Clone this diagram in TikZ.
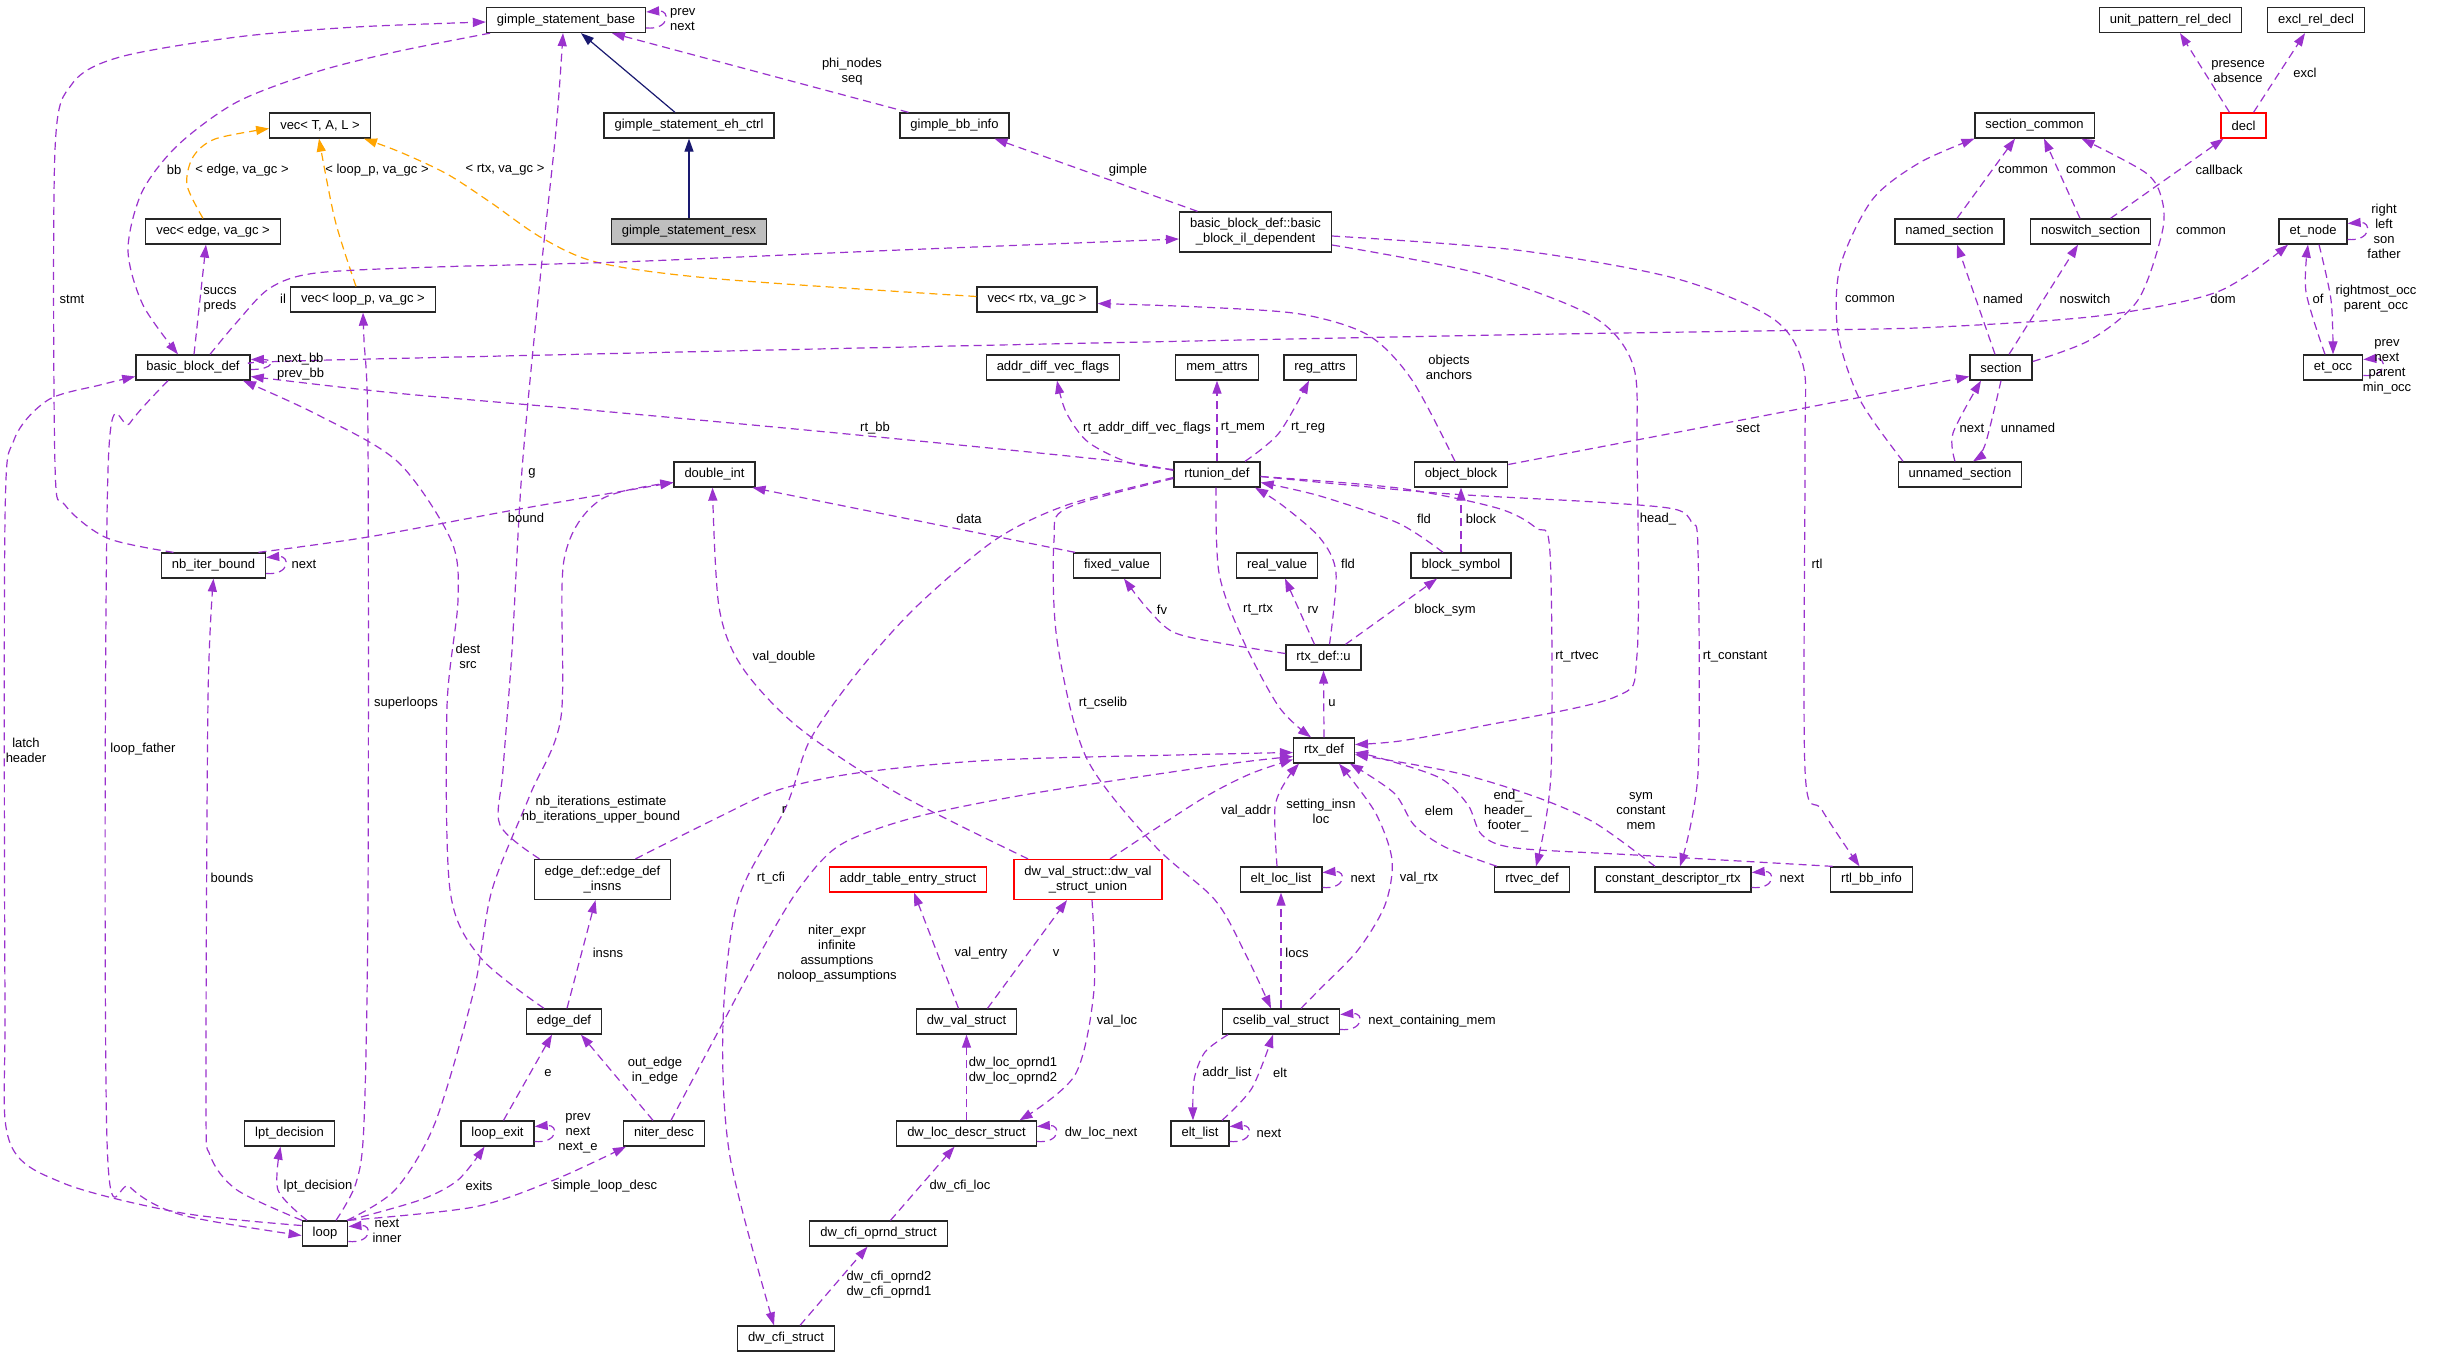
\documentclass[tikz,border=0pt]{standalone}
\usepackage{fontspec}
\setmainfont{Liberation Sans}
\usetikzlibrary{arrows.meta}
\definecolor{collab}{HTML}{9A32CD}
\definecolor{tmplc}{HTML}{FFA500}
\definecolor{inhc}{HTML}{191970}
\tikzset{
  cls/.style={draw=black!85, line width=1.3pt, fill=white, inner xsep=10.5pt, inner ysep=2pt, minimum height=25pt, align=center},
  cls2/.style={cls, minimum height=40pt},
  rootcls/.style={cls, fill=black!25},
  undoc/.style={cls, draw=red},
  lbl/.style={inner sep=0pt, align=center},
  member/.style={draw=collab, line width=1.2pt, dash pattern=on 8pt off 5pt, -{Triangle[length=13pt,width=9pt]}},
  tmpl/.style={member, draw=tmplc},
  inherit/.style={draw=inhc, line width=1.2pt, -{Triangle[length=13pt,width=9pt]}},
}
\begin{document}
\begin{tikzpicture}[x=1pt, y=-1pt, font=\fontsize{13}{15}\selectfont]
			%%%%% START %%%%%
			\fill[white] (0,0) rectangle (2443,1357);
			\useasboundingbox (0,0) rectangle (2443,1357);

			% classes
			\node[cls] (gsb) at (566,20) {gimple\_statement\_base};
			\node[cls] (gsec) at (689,125.5) {gimple\_statement\_eh\_ctrl};
			\node[rootcls] (gsr) at (689,231.5) {gimple\_statement\_resx};
			\node[cls] (gbi) at (954.5,125.5) {gimple\_bb\_info};
			\node[cls2] (bbil) at (1255.5,232) {basic\_block\_def::basic\\\_block\_il\_dependent};
			\node[cls] (vecT) at (320,125.5) {vec< T, A, L >};
			\node[cls] (vecE) at (213,231.5) {vec< edge, va\_gc >};
			\node[cls] (vecL) at (363,299.5) {vec< loop\_p, va\_gc >};
			\node[cls] (vecR) at (1037,299.5) {vec< rtx, va\_gc >};
			\node[cls] (bbd) at (193,367.5) {basic\_block\_def};
			\node[cls] (adv) at (1053,367.5) {addr\_diff\_vec\_flags};
			\node[cls] (mema) at (1217,367.5) {mem\_attrs};
			\node[cls] (rega) at (1320,367.5) {reg\_attrs};
			\node[cls] (upr) at (2170.5,20) {unit\_pattern\_rel\_decl};
			\node[cls] (erd) at (2316,20) {excl\_rel\_decl};
			\node[cls] (scom) at (2034.5,125.5) {section\_common};
			\node[undoc] (decl) at (2243.5,125.5) {decl};
			\node[cls] (nsec) at (1949.5,231.5) {named\_section};
			\node[cls] (nssec) at (2090.5,231.5) {noswitch\_section};
			\node[cls] (etn) at (2313,231.5) {et\_node};
			\node[cls] (sec) at (2001,367.5) {section};
			\node[cls] (eto) at (2333,367.5) {et\_occ};
			\node[cls] (nib) at (213.5,565.5) {nb\_iter\_bound};
			\node[cls2] (edi) at (602.5,879.5) {edge\_def::edge\_def\\\_insns};
			\node[cls] (dint) at (714.5,474.5) {double\_int};
			\node[cls] (rtu) at (1217,474.5) {rtunion\_def};
			\node[cls] (fxv) at (1117,565.5) {fixed\_value};
			\node[undoc] (ates) at (908,879.5) {addr\_table\_entry\_struct};
			\node[undoc, minimum height=40pt] (dvu) at (1088,879.5) {dw\_val\_struct::dw\_val\\\_struct\_union};
			\node[cls] (objb) at (1461,474.5) {object\_block};
			\node[cls] (realv) at (1277,565.5) {real\_value};
			\node[cls] (blks) at (1461,565.5) {block\_symbol};
			\node[cls] (rtxu) at (1323.5,657.5) {rtx\_def::u};
			\node[cls] (rtx) at (1324,750.5) {rtx\_def};
			\node[cls] (ell) at (1281,879.5) {elt\_loc\_list};
			\node[cls] (rtv) at (1532,879.5) {rtvec\_def};
			\node[cls] (cdr) at (1673,879.5) {constant\_descriptor\_rtx};
			\node[cls] (usec) at (1960,474.5) {unnamed\_section};
			\node[cls] (rbi) at (1871.5,879.5) {rtl\_bb\_info};
			\node[cls] (edef) at (564,1021.5) {edge\_def};
			\node[cls] (lptd) at (289.5,1133.5) {lpt\_decision};
			\node[cls] (lexit) at (497.5,1133.5) {loop\_exit};
			\node[cls] (loop) at (325,1233.5) {loop};
			\node[cls] (nid) at (664,1133.5) {niter\_desc};
			\node[cls] (dvs) at (966.5,1021.5) {dw\_val\_struct};
			\node[cls] (dld) at (966.5,1133.5) {dw\_loc\_descr\_struct};
			\node[cls] (dcos) at (878.5,1233.5) {dw\_cfi\_oprnd\_struct};
			\node[cls] (dcs) at (786,1338.5) {dw\_cfi\_struct};
			\node[cls] (elst) at (1200,1133.5) {elt\_list};
			\node[cls] (csv) at (1281,1021.5) {cselib\_val\_struct};

			% inheritance
			\draw[inherit] ([xshift=-14pt]gsec.north) -- ([xshift=15pt]gsb.south);
			\draw[inherit] (gsr.north) -- (gsec.south);

			% template instances
			\draw[tmpl] plot[smooth] coordinates {([xshift=-10pt]vecE.north) (187,185) (193,157) (215,139) ([yshift=-3pt]vecT.west)};
			\draw[tmpl] plot[smooth] coordinates {([xshift=-7pt]vecL.north) (335,220) ([xshift=-1pt]vecT.south)};
			\draw[tmpl] plot[smooth] coordinates {([yshift=3pt]vecR.west) (719,279) (600,263) (542,238) (490,202) (447,174) (400,152) ([xshift=44pt]vecT.south)};

			% gimple side
			\draw[member] plot[smooth] coordinates {([xshift=-40pt]nib.north) (107,538) (65,505) (55,465) (55,150) (72,84) (120,57) (237,37) (356,27) ([yshift=-2pt]gsb.west)};
			\draw[member] plot[smooth] coordinates {([xshift=-76pt]gsb.south) (395,52) (316,72) (237,102) (178,145) (142,192) (128,250) (143,305) ([xshift=-15pt]bbd.north)};
			\draw[member] plot[smooth] coordinates {([xshift=-63pt]edi.north) (500,825) (503,770) (512,650) (522,470) (540,280) (556,130) ([xshift=-3pt]gsb.south)};
			\draw[member] ([yshift=-8pt]gsb.east) .. controls +(24,2) and +(24,-2) .. ([yshift=8pt]gsb.east);
			\draw[member] ([xshift=-46pt]gbi.north) -- ([xshift=46pt]gsb.south);
			\draw[member] ([xshift=-58pt]bbil.north) -- ([xshift=40pt]gbi.south);
			\draw[member] plot[smooth] coordinates {([xshift=17pt]bbd.north) (237,322) (270,288) (316,273) (435,267) (620,262) (900,250) ([yshift=-7pt]bbil.west)};
			\draw[member] ([xshift=1pt]bbd.north) -- ([xshift=-7pt]vecE.south);
			\draw[member] plot[smooth] coordinates {([xshift=11pt]loop.north) (356,1183) (364,1123) (368,900) (368,440) (364,340) (vecL.south)};
			\draw[member] ([yshift=-2pt]bbd.east) .. controls +(24,0) and +(24,0) .. ([yshift=8pt]bbd.east);
			\draw[member] plot[smooth] coordinates {([yshift=4pt]rtu.west) (1106,460) (837,433) (600,411) (395,393) ([yshift=-9pt]bbd.east)};
			\draw[member] plot[smooth] coordinates {([xshift=-20pt]edef.north) (480,957) (450,890) (447,707) (458,600) (451,540) (398,462) (318,415) ([xshift=50pt]bbd.south)};
			\draw[member] plot[smooth] coordinates {([yshift=8pt]loop.west) (182,1213) (63,1183) (9,1140) (5,1000) (5,520) (14,440) (48,400) (100,385) ([yshift=-9pt]bbd.west)};
			\draw[member] plot[smooth] coordinates {([xshift=-25pt]bbd.south) (130,423) (108,470) (107,1140) (130,1187) (182,1215) ([yshift=-2pt]loop.west)};
			\draw[member] plot[smooth] coordinates {([xshift=-23pt]loop.north) (237,1190) (210,1155) (206,1100) (208,700) (nib.south)};
			\draw[member] ([yshift=-8pt]nib.east) .. controls +(24,2) and +(24,-2) .. ([yshift=8pt]nib.east);
			\draw[member] plot[smooth] coordinates {([xshift=45pt]nib.north) (368,537) (514,510) ([yshift=-8pt]dint.west)};
			\draw[member] plot[smooth] coordinates {([xshift=22pt]loop.north) (395,1190) (435,1123) (474,990) (492,890) (530,795) (561,717) (564,560) (600,500) ([yshift=-8pt]dint.west)};
			\draw[member] plot[smooth] coordinates {([xshift=-60pt]dvu.north) (897,793) (798,727) (742,667) (719,607) ([xshift=-2pt]dint.south)};
			\draw[member] ([xshift=-42pt]fxv.north) -- ([xshift=38pt]dint.south);

			% rtl side
			\draw[member] plot[smooth] coordinates {([yshift=5pt]rtu.west) (1130,463) (1088,442) (1066,412) ([xshift=4pt]adv.south)};
			\draw[member] (rtu.north) -- (mema.south);
			\draw[member] plot[smooth] coordinates {([xshift=28pt]rtu.north) (1279,433) ([xshift=-11pt]rega.south)};
			\draw[member] plot[smooth] coordinates {([xshift=-6pt]objb.north) (1412,380) (1368,335) (1300,314) (1200,307) ([yshift=-4pt]vecR.east)};
			\draw[member] ([yshift=10pt]objb.east) -- ([yshift=-9pt]sec.west);
			\draw[member] plot[smooth] coordinates {([yshift=-13pt]bbil.east) (1477,273) (1592,316) (1633,365) (1637,450) (1637,655) (1615,697) (1477,727) (1400,741) ([yshift=6pt]rtx.east)};
			\draw[member] plot[smooth] coordinates {([yshift=-4pt]bbil.east) (1516,250) (1674,278) (1772,318) (1803,365) (1805,450) (1805,770) (1822,810) ([xshift=-12pt]rbi.north)};
			\draw[member] plot[smooth] coordinates {([xshift=-39pt]rbi.north) (1635,855) (1516,848) (1482,835) (1468,805) (1440,778) (1380,758) ([yshift=-2pt]rtx.east)};
			\draw[member] plot[smooth] coordinates {([xshift=-18pt]cdr.north) (1595,823) (1536,797) (1457,773) ([yshift=-4pt]rtx.east)};
			\draw[member] plot[smooth] coordinates {([xshift=-35pt]rtv.north) (1445,847) (1414,825) (1394,793) ([xshift=26pt]rtx.south)};
			\draw[member] plot[smooth] coordinates {([yshift=-2pt]rtu.east) (1398,488) (1497,508) (1536,528) (1550,553) (1551,773) ([xshift=4pt]rtv.north)};
			\draw[member] plot[smooth] coordinates {([yshift=-2pt]rtu.east) (1437,493) (1595,502) (1674,509) (1692,523) (1698,550) (1698,773) ([xshift=7pt]cdr.north)};
			\draw[member] ([yshift=-8pt]cdr.east) .. controls +(24,2) and +(24,-2) .. ([yshift=7pt]cdr.east);
			\draw[member] plot[smooth] coordinates {([xshift=-1pt]rtu.south) (1219,573) (1243,640) (1279,707) ([xshift=-13pt]rtx.north)};
			\draw[member] plot[smooth] coordinates {([xshift=6pt]rtxu.north) (1336,573) (1320,538) (1282,505) ([xshift=38pt]rtu.south)};
			\draw[member] plot[smooth] coordinates {([xshift=-18pt]blks.north) (1398,523) (1320,496) ([yshift=-8pt]rtu.east)};
			\draw[member] (blks.north) -- (objb.south);
			\draw[member] ([xshift=22pt]rtxu.north) -- ([xshift=-24pt]blks.south);
			\draw[member] ([xshift=-9pt]rtxu.north) -- ([xshift=8pt]realv.south);
			\draw[member] plot[smooth] coordinates {([yshift=4pt]rtxu.west) (1220,643) (1173,632) (1146,607) ([xshift=7pt]fxv.south)};
			\draw[member] (rtx.north) -- (rtxu.south);
			\draw[member] plot[smooth] coordinates {([yshift=-4pt]rtu.west) (1067,508) (1054,540) (1057,640) (1086,757) (1154,845) (1215,900) (1246,955) ([xshift=-10pt]csv.north)};
			\draw[member] plot[smooth] coordinates {([yshift=-3pt]rtu.west) (1067,505) (995,540) (916,607) (857,673) (810,740) (786,807) (738,900) (723,1023) (730,1157) ([xshift=-12pt]dcs.north)};
			\draw[member] plot[smooth] coordinates {([xshift=33pt]edi.north) (719,817) (778,790) (857,773) (995,760) (1220,754) ([yshift=-2pt]rtx.west)};
			\draw[member] plot[smooth] coordinates {([xshift=7pt]nid.north) (719,1030) (758,957) (798,890) (840,845) (916,817) (1035,793) (1220,765) ([yshift=-6pt]rtx.west)};
			\draw[member] plot[smooth] coordinates {([xshift=22pt]dvu.north) (1200,800) (1250,774) ([yshift=-9pt]rtx.west)};
			\draw[member] plot[smooth] coordinates {([xshift=-4pt]ell.north) (1275,807) (1287,779) ([xshift=-25pt]rtx.south)};
			\draw[member] ([yshift=-8pt]ell.east) .. controls +(24,2) and +(24,-2) .. ([yshift=7pt]ell.east);
			\draw[member] plot[smooth] coordinates {([xshift=20pt]csv.north) (1319,990) (1358,950) (1385,905) (1392,860) (1375,812) ([xshift=15pt]rtx.south)};
			\draw[member] (csv.north) -- (ell.south);
			\draw[member] ([yshift=-8pt]csv.east) .. controls +(24,2) and +(24,-2) .. ([yshift=7pt]csv.east);
			\draw[member] plot[smooth] coordinates {([xshift=-53pt]csv.south) (1205,1052) (1194,1080) ([xshift=-7pt]elst.north)};
			\draw[member] plot[smooth] coordinates {([xshift=22pt]elst.north) (1252,1088) ([xshift=-8pt]csv.south)};
			\draw[member] ([yshift=-8pt]elst.east) .. controls +(24,2) and +(24,-2) .. ([yshift=7pt]elst.east);

			% dwarf side
			\draw[member] ([xshift=-8pt]dvs.north) -- ([xshift=6pt]ates.south);
			\draw[member] ([xshift=21pt]dvs.north) -- ([xshift=-21pt]dvu.south);
			\draw[member] plot[smooth] coordinates {([xshift=4pt]dvu.south) (1094,990) (1075,1075) ([xshift=53pt]dld.north)};
			\draw[member] (dld.north) -- (dvs.south);
			\draw[member] ([yshift=-8pt]dld.east) .. controls +(24,2) and +(24,-2) .. ([yshift=7pt]dld.east);
			\draw[member] ([xshift=12pt]dcos.north) -- ([xshift=-12pt]dld.south);
			\draw[member] ([xshift=14pt]dcs.north) -- ([xshift=-11pt]dcos.south);

			% loop side
			\draw[member] ([xshift=-11pt]nid.north) -- ([xshift=17pt]edef.south);
			\draw[member] ([xshift=6pt]lexit.north) -- ([xshift=-12pt]edef.south);
			\draw[member] ([yshift=-8pt]lexit.east) .. controls +(24,2) and +(24,-2) .. ([yshift=7pt]lexit.east);
			\draw[member] plot[smooth] coordinates {(loop.north east) (420,1200) (458,1180) ([xshift=-13pt]lexit.south)};
			\draw[member] plot[smooth] coordinates {(loop.north east) (474,1207) (554,1180) ([xshift=-38pt]nid.south)};
			\draw[member] plot[smooth] coordinates {([xshift=-18pt]loop.north) (278,1190) ([xshift=-9pt]lptd.south)};
			\draw[member] ([yshift=-8pt]loop.east) .. controls +(24,2) and +(24,-2) .. ([yshift=7pt]loop.east);
			\draw[member] ([xshift=3pt]edef.north) -- ([xshift=-7pt]edi.south);

			% section side
			\draw[member] ([xshift=7.5pt]nsec.north) -- ([xshift=-19.5pt]scom.south);
			\draw[member] ([xshift=-10.5pt]nssec.north) -- ([xshift=9.5pt]scom.south);
			\draw[member] plot[smooth] coordinates {([yshift=6pt]sec.east) (2090,340) (2138,300) (2162,233) (2162,200) (2146,173) ([xshift=47pt]scom.south)};
			\draw[member] plot[smooth] coordinates {([xshift=-57pt]usec.north) (1860,400) (1838,333) (1840,267) (1872,200) (1919,163) ([xshift=-60pt]scom.south)};
			\draw[member] ([xshift=-6pt]sec.north) -- ([xshift=7.5pt]nsec.south);
			\draw[member] ([xshift=8pt]sec.north) -- ([xshift=-12.5pt]nssec.south);
			\draw[member] ([xshift=20pt]nssec.north) -- ([xshift=-20pt]decl.south);
			\draw[member] plot[smooth] coordinates {(sec.south) (1985,445) ([xshift=13pt]usec.north)};
			\draw[member] plot[smooth] coordinates {([xshift=-5pt]usec.north) (1953,433) ([xshift=-20pt]sec.south)};
			\draw[member] ([xshift=-14pt]decl.north) -- ([xshift=9.5pt]upr.south);
			\draw[member] ([xshift=10pt]decl.north) -- ([xshift=-11pt]erd.south);
			\draw[member] ([yshift=-8pt]etn.east) .. controls +(24,2) and +(24,-2) .. ([yshift=8pt]etn.east);
			\draw[member] plot[smooth] coordinates {([xshift=-8pt]eto.north) (2306,292) ([xshift=-5pt]etn.south)};
			\draw[member] plot[smooth] coordinates {([xshift=6pt]etn.south) (2331,300) (eto.north)};
			\draw[member] ([yshift=-8pt]eto.east) .. controls +(24,2) and +(24,-2) .. ([yshift=8pt]eto.east);
			\draw[member] plot[smooth] coordinates {([yshift=4pt]bbd.east) (330,360) (1000,345) (1500,335) (1820,330) (1939,327) (2098,316) (2217,292) ([xshift=-25pt]etn.south)};

			% edge labels
			\node[lbl] (t_tpl1) at (242,170) {< edge, va\_gc >};
			\node[lbl] (t_tpl2) at (377,170) {< loop\_p, va\_gc >};
			\node[lbl] (t_tpl3) at (505,170) {< rtx, va\_gc >};
			\node[lbl] (t_bb) at (174,170) {bb};
			\node[lbl] (t_stmt) at (72,299) {stmt};
			\node[lbl] (t_g) at (532,473) {g};
			\node[lbl, anchor=west, align=left] (t_gsbself) at (670,20) {prev\\next};
			\node[lbl] (t_phi) at (852,72) {phi\_nodes\\seq};
			\node[lbl] (t_gimple) at (1128,170) {gimple};
			\node[lbl] (t_il) at (283,299) {il};
			\node[lbl] (t_succs) at (220,300) {succs\\preds};
			\node[lbl] (t_superloops) at (406,703) {superloops};
			\node[lbl, anchor=west, align=left] (t_nextbb) at (277,367) {next\_bb\\prev\_bb};
			\node[lbl] (t_rtbb) at (875,428) {rt\_bb};
			\node[lbl] (t_destsrc) at (468,656) {dest\\src};
			\node[lbl] (t_latch) at (26,750) {latch\\header};
			\node[lbl] (t_loopfather) at (143,749) {loop\_father};
			\node[lbl] (t_bounds) at (232,878) {bounds};
			\node[lbl] (t_nibnext) at (304,564) {next};
			\node[lbl] (t_bound) at (526,518) {bound};
			\node[lbl] (t_nbiter) at (601,810) {nb\_iterations\_estimate\\nb\_iterations\_upper\_bound};
			\node[lbl] (t_valdouble) at (784,657) {val\_double};
			\node[lbl] (t_data) at (969,519) {data};
			\node[lbl] (t_rtaddr) at (1147,428) {rt\_addr\_diff\_vec\_flags};
			\node[lbl] (t_rtmem) at (1243,428) {rt\_mem};
			\node[lbl] (t_rtreg) at (1308,428) {rt\_reg};
			\node[lbl] (t_objects) at (1449,367) {objects\\anchors};
			\node[lbl] (t_sect) at (1748,428) {sect};
			\node[lbl] (t_head) at (1658,519) {head\_};
			\node[lbl] (t_rtl) at (1817,564) {rtl};
			\node[lbl] (t_endhf) at (1508,811) {end\_\\header\_\\footer\_};
			\node[lbl] (t_sym) at (1641,811) {sym\\constant\\mem};
			\node[lbl] (t_elem) at (1439,811) {elem};
			\node[lbl] (t_rtrtvec) at (1577,657) {rt\_rtvec};
			\node[lbl] (t_rtconst) at (1735,657) {rt\_constant};
			\node[lbl] (t_cdrnext) at (1792,878) {next};
			\node[lbl] (t_rtrtx) at (1258,610) {rt\_rtx};
			\node[lbl] (t_fld1) at (1348,564) {fld};
			\node[lbl] (t_fld2) at (1424,519) {fld};
			\node[lbl] (t_block) at (1481,519) {block};
			\node[lbl] (t_blocksym) at (1445,610) {block\_sym};
			\node[lbl] (t_rv) at (1313,610) {rv};
			\node[lbl] (t_fv) at (1162,610) {fv};
			\node[lbl] (t_u) at (1332,703) {u};
			\node[lbl] (t_rtcselib) at (1103,703) {rt\_cselib};
			\node[lbl] (t_rtcfi) at (771,878) {rt\_cfi};
			\node[lbl] (t_r) at (784,810) {r};
			\node[lbl] (t_niter) at (837,954) {niter\_expr\\infinite\\assumptions\\noloop\_assumptions};
			\node[lbl] (t_valaddr) at (1246,811) {val\_addr};
			\node[lbl] (t_setting) at (1321,811) {setting\_insn\\loc};
			\node[lbl] (t_ellnext) at (1363,878) {next};
			\node[lbl] (t_valrtx) at (1419,878) {val\_rtx};
			\node[lbl] (t_locs) at (1297,953) {locs};
			\node[lbl] (t_ncm) at (1432,1021) {next\_containing\_mem};
			\node[lbl] (t_addrlist) at (1227,1073) {addr\_list};
			\node[lbl] (t_elt) at (1280,1073) {elt};
			\node[lbl] (t_elstnext) at (1269,1133) {next};
			\node[lbl] (t_valentry) at (981,953) {val\_entry};
			\node[lbl] (t_v) at (1056,953) {v};
			\node[lbl] (t_valloc) at (1117,1021) {val\_loc};
			\node[lbl] (t_oprnd) at (1013,1071) {dw\_loc\_oprnd1\\dw\_loc\_oprnd2};
			\node[lbl] (t_dlnext) at (1101,1133) {dw\_loc\_next};
			\node[lbl] (t_cfiloc) at (960,1186) {dw\_cfi\_loc};
			\node[lbl] (t_cfioprnd) at (889,1285) {dw\_cfi\_oprnd2\\dw\_cfi\_oprnd1};
			\node[lbl] (t_outedge) at (655,1071) {out\_edge\\in\_edge};
			\node[lbl] (t_e) at (548,1073) {e};
			\node[lbl] (t_lexitnext) at (578,1133) {prev\\next\\next\_e};
			\node[lbl] (t_exits) at (479,1186) {exits};
			\node[lbl] (t_sld) at (605,1186) {simple\_loop\_desc};
			\node[lbl] (t_lpt) at (318,1186) {lpt\_decision};
			\node[lbl] (t_loopnext) at (387,1231) {next\\inner};
			\node[lbl] (t_insns) at (608,953) {insns};
			\node[lbl] (t_common1) at (2023,170) {common};
			\node[lbl] (t_common2) at (2091,170) {common};
			\node[lbl] (t_common3) at (2201,231) {common};
			\node[lbl] (t_common4) at (1870,299) {common};
			\node[lbl] (t_named) at (2003,299) {named};
			\node[lbl] (t_noswitch) at (2085,299) {noswitch};
			\node[lbl] (t_callback) at (2219,170) {callback};
			\node[lbl] (t_unnamed) at (2028,428) {unnamed};
			\node[lbl] (t_secnext) at (1972,428) {next};
			\node[lbl] (t_presence) at (2238,72) {presence\\absence};
			\node[lbl] (t_excl) at (2305,73) {excl};
			\node[lbl] (t_etn) at (2384,231) {right\\left\\son\\father};
			\node[lbl] (t_of) at (2318,299) {of};
			\node[lbl] (t_rocc) at (2376,299) {rightmost\_occ\\parent\_occ};
			\node[lbl] (t_etoself) at (2387,367) {prev\\next\\parent\\min\_occ};
			\node[lbl] (t_dom) at (2223,299) {dom};
			%%%%% END %%%%%
\end{tikzpicture}
\end{document}
